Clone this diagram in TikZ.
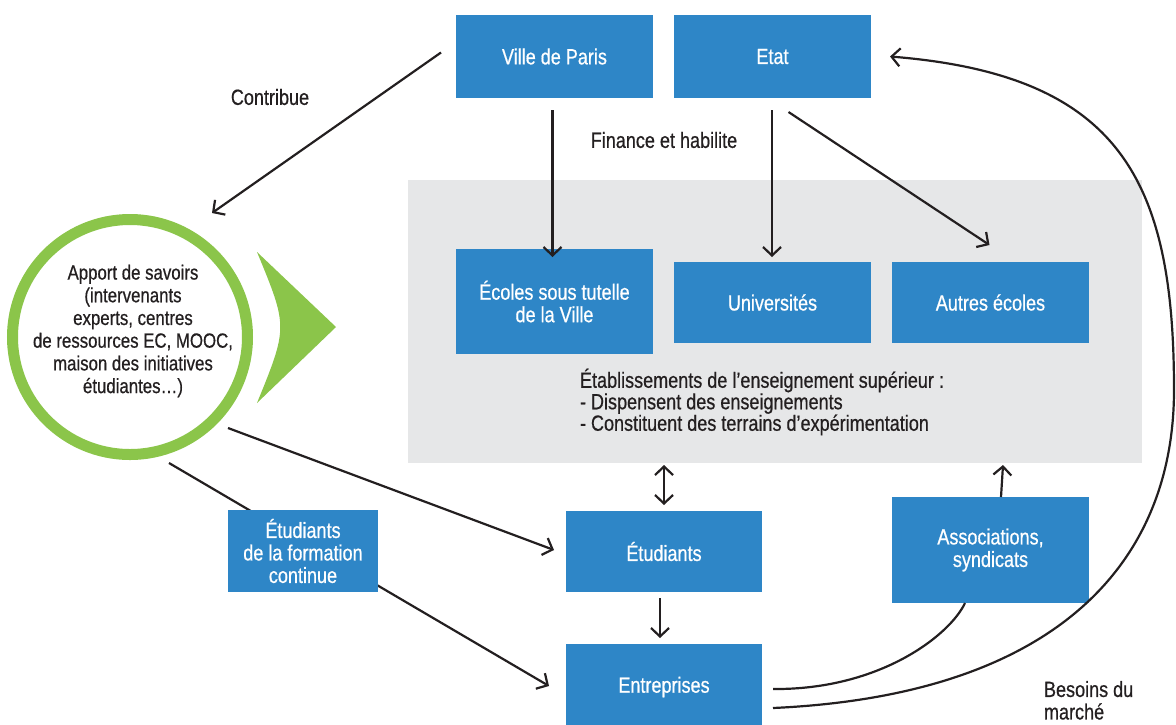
\documentclass[tikz,border=0pt]{standalone}
\usepackage{fontspec}
\setmainfont{Liberation Sans}[FakeStretch=0.82,FakeBold=0.6]
\usetikzlibrary{arrows.meta,calc}
\definecolor{boxblue}{RGB}{46,134,199}
\definecolor{ringgreen}{RGB}{139,197,74}
\definecolor{panelgray}{RGB}{230,231,232}
\definecolor{ink}{RGB}{35,31,32}
\pgfdeclarelayer{background}
\pgfsetlayers{background,main}
\begin{document}
\begin{tikzpicture}[x=1pt,y=-1pt,
  every node/.style={inner sep=0pt, outer sep=0pt},
  bluebox/.style={rectangle, fill=boxblue, text=white, align=center, font=\fontsize{22}{22.5}\selectfont},
  plain/.style={text=ink, font=\fontsize{22}{22.5}\selectfont},
  conn/.style={draw=ink, line width=2.2pt},
  arr/.style={conn, -{Straight Barb[length=8.5pt,width=18pt]}},
  darr/.style={conn, {Straight Barb[length=8.5pt,width=18pt]}-{Straight Barb[length=8.5pt,width=18pt]}},
]
\useasboundingbox (0,0) rectangle (1176,724);

% grey panel
\node[rectangle, fill=panelgray, minimum width=734pt, minimum height=283pt] (panel) at (775,321.5) {};

% blue boxes
\node[bluebox, minimum width=197pt, minimum height=83pt] (vp) at (554.5,56.5) {Ville de Paris};
\node[bluebox, minimum width=197pt, minimum height=83pt] (etat) at (772.5,56.5) {Etat};
\node[bluebox, minimum width=197pt, minimum height=105pt] (ecoles) at (554.5,301.5) {Écoles sous tutelle\\de la Ville};
\node[bluebox, minimum width=197pt, minimum height=81pt] (univ) at (772.5,302.5) {Universités};
\node[bluebox, minimum width=197pt, minimum height=81pt] (autres) at (990.5,302.5) {Autres écoles};
\node[bluebox, minimum width=196pt, minimum height=81pt] (etud) at (664,551.5) {Étudiants};
\node[bluebox, minimum width=196pt, minimum height=86pt] (entr) at (664,687) {Entreprises};
\node[bluebox, minimum width=150pt, minimum height=82pt] (formc) at (303,551) {Étudiants\\de la formation\\continue};
\node[bluebox, minimum width=197pt, minimum height=106pt] (assoc) at (990.5,550) {Associations,\\syndicats};

% green circle and triangle
\node[circle, draw=ringgreen, line width=11pt, minimum size=235pt, fill=white] (apport) at (130,337) {};
\node[plain, align=center, font=\fontsize{20.5}{22.7}\selectfont] (apporttxt) at (133,331)
  {Apport de savoirs\\(intervenants\\experts, centres\\de ressources EC, MOOC,\\maison des initiatives\\étudiantes…)};
\fill[ringgreen] (257,252) .. controls (288,327) .. (257,403) -- (336,327) -- cycle;

% texts
\node[plain] (contrib) at (270,97) {Contribue};
\node[plain] (finance) at (664,140) {Finance et habilite};
\node[plain, align=left, anchor=west, font=\fontsize{22}{21.5}\selectfont] (etabl) at (580,402)
  {Établissements de l’enseignement supérieur :\\- Dispensent des enseignements\\- Constituent des terrains d’expérimentation};
\node[plain, align=left, anchor=north west] (besoins) at (1044,681) {Besoins du\\marché};

% connectors
\draw[arr] ($(vp.west)+(-15,-4)$) -- ($(apport.center)+(82,-124)$);
\draw[arr] ($(vp.south)+(-2,12)$) -- ($(ecoles.north)+(-2,8)$);
\draw[arr] ($(etat.south)+(-0.5,12)$) -- ($(univ.north)+(-0.5,-5)$);
\draw[arr] ($(etat.south)+(16,14)$) -- ($(autres.north)+(-1,-17)$);
\draw[arr] ($(apport.center)+(98,91)$) -- ($(etud.west)+(-12,-1.5)$);
\begin{pgfonlayer}{background}
\draw[arr] ($(apport.center)+(39,126)$) -- ($(entr.west)+(-17,-1)$);
\end{pgfonlayer}
\draw[darr] ($(etud.north)+(0,-6)$) -- ($(etud.north)+(0,-46)$);
\draw[arr] ($(etud.south)+(-4,6)$) -- ($(entr.north)+(-4,-6)$);
\draw[arr] ($(assoc.north)+(10.5,0)$) -- ($(assoc.north)+(12.5,-32)$);
\draw[conn] ($(entr.east)+(11,2)$) .. controls (880,690) and (950,635) .. ($(assoc.south)+(-25.5,0)$);
\draw[arr] ($(entr.east)+(11,21)$) .. controls (1060,695) and (1174,560) .. (1174,390)
  .. controls (1174,180) and (1120,75) .. ($(etat.east)+(19,0)$);
\end{tikzpicture}
\end{document}
